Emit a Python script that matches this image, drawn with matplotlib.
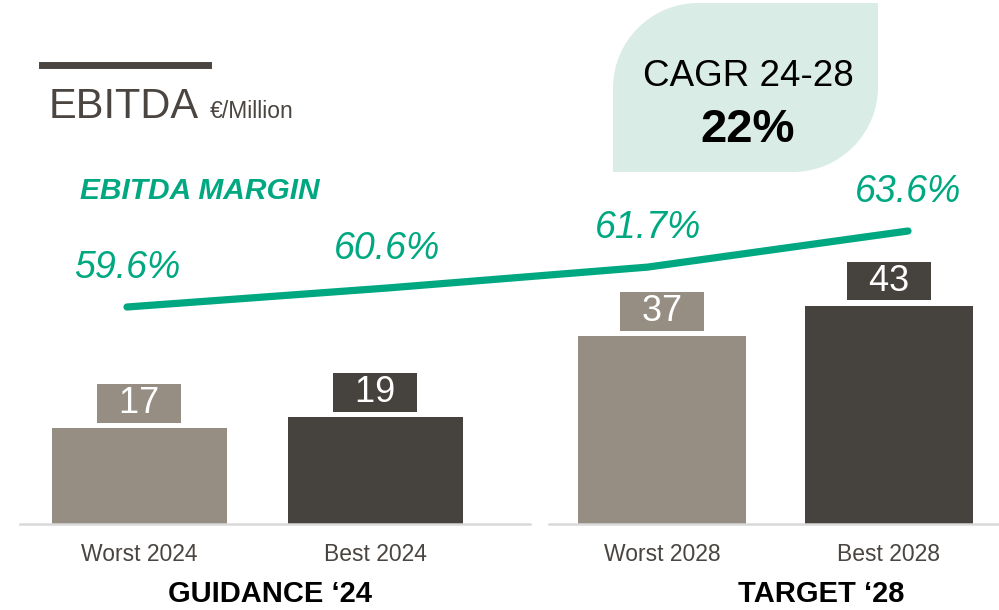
import matplotlib.pyplot as plt
from matplotlib.path import Path
from matplotlib.patches import PathPatch

plt.rcParams['font.family'] = ['Liberation Sans', 'DejaVu Sans']

guidance_labels = ['Worst 2024', 'Best 2024']
guidance_values = [17, 19]
target_labels = ['Worst 2028', 'Best 2028']
target_values = [37, 43]
margin_values = [59.6, 60.6, 61.7, 63.6]
margin_labels = ['59.6%', '60.6%', '61.7%', '63.6%']

light = '#968d83'
dark = '#46423d'
green = '#00a881'
grey_text = '#4a4540'

fig = plt.figure(figsize=(9.99, 6.10), dpi=100)
W, H = 999, 610


def px_axes(x0, x1, y_top, y_bot):
    return fig.add_axes([x0 / W, 1 - y_bot / H, (x1 - x0) / W, (y_bot - y_top) / H])


def bar_group(ax, labels, values, scale, xlim):
    h_px = ax.get_position().height * H
    ax.set_xlim(*xlim)
    ax.set_ylim(0, h_px / scale)
    bars = ax.bar(range(len(values)), values, width=0.74, color=[light, dark])
    for b, v, c in zip(bars, values, [light, dark]):
        ax.annotate('  %d  ' % v, (b.get_x() + b.get_width() / 2, v), xytext=(0, 5),
                    textcoords='offset points', ha='center', va='bottom', fontsize=26,
                    color='white', bbox=dict(boxstyle='square,pad=0.05', fc=c, ec='none'))
    ax.set_xticks(range(len(labels)))
    ax.set_xticklabels(labels, fontsize=16.5, color=grey_text)
    ax.tick_params(axis='x', length=0, pad=14)
    ax.set_yticks([])
    for s in ['top', 'left', 'right']:
        ax.spines[s].set_visible(False)
    ax.spines['bottom'].set_color('#d9d9d9')
    ax.spines['bottom'].set_linewidth(1.8)
    ax.patch.set_alpha(0)


ax1 = px_axes(20, 530, 160, 524)
bar_group(ax1, guidance_labels, guidance_values, 5.65, (-0.506, 1.655))
ax2 = px_axes(549, 999, 160, 524)
bar_group(ax2, target_labels, target_values, 5.08, (-0.498, 1.485))

fig.text(270 / W, 1 - 594 / H, 'GUIDANCE \u201824', ha='center', va='center',
         fontsize=21, fontweight='bold', color='black')
fig.text(821 / W, 1 - 594 / H, 'TARGET \u201828', ha='center', va='center',
         fontsize=21, fontweight='bold', color='black')

# margin line on a full-figure overlay
axm = fig.add_axes([0, 0, 1, 1])
axm.set_xlim(-127 / 260.33, (W - 127) / 260.33)
axm.set_ylim(59.6 - 303 / 19, 59.6 - 303 / 19 + H / 19)
axm.axis('off')
axm.patch.set_alpha(0)
xs = range(len(margin_values))
axm.plot(xs, margin_values, color=green, linewidth=5.2, solid_capstyle='round',
         solid_joinstyle='round')
for x, v, t in zip(xs, margin_values, margin_labels):
    axm.annotate(t, (x, v), xytext=(0, 28), textcoords='offset points', ha='center',
                 va='center', fontsize=27, style='italic', color=green)

fig.text(80 / W, 1 - 191 / H, 'EBITDA MARGIN', ha='left', va='center', fontsize=21.5,
         fontweight='bold', style='italic', color=green)

# title
fig.add_artist(plt.Line2D([42 / W, 208 / W], [1 - 65 / H, 1 - 65 / H], color=grey_text,
                          linewidth=5, transform=fig.transFigure))
fig.text(49 / W, 1 - 118 / H, 'EBITDA', ha='left', va='baseline', fontsize=30,
         color=grey_text)
fig.text(210 / W, 1 - 118 / H, '\u20ac/Million', ha='left', va='baseline', fontsize=16.5,
         color=grey_text)

# CAGR badge
x0, x1, yt, yb, r = 613, 878, 3, 172, 85
k = 0.55
pts = [(x0, yb), (x0, yt + r), (x0, yt + r - k * r), (x0 + r - k * r, yt), (x0 + r, yt),
       (x1, yt), (x1, yb - r), (x1, yb - r + k * r), (x1 - r + k * r, yb), (x1 - r, yb),
       (x0, yb)]
codes = [Path.MOVETO, Path.LINETO, Path.CURVE4, Path.CURVE4, Path.CURVE4, Path.LINETO,
         Path.LINETO, Path.CURVE4, Path.CURVE4, Path.CURVE4, Path.CLOSEPOLY]
verts = [(x / W, 1 - y / H) for x, y in pts]
fig.add_artist(PathPatch(Path(verts, codes), fc='#daece6', ec='none',
                         transform=fig.transFigure, zorder=0))
fig.text(748 / W, 1 - 77 / H, 'CAGR 24-28', ha='center', va='center', fontsize=26.5,
         color='black')
fig.text(748 / W, 1 - 130 / H, '22%', ha='center', va='center', fontsize=34,
         fontweight='bold', color='black')

fig.savefig('out.png', dpi=100)
